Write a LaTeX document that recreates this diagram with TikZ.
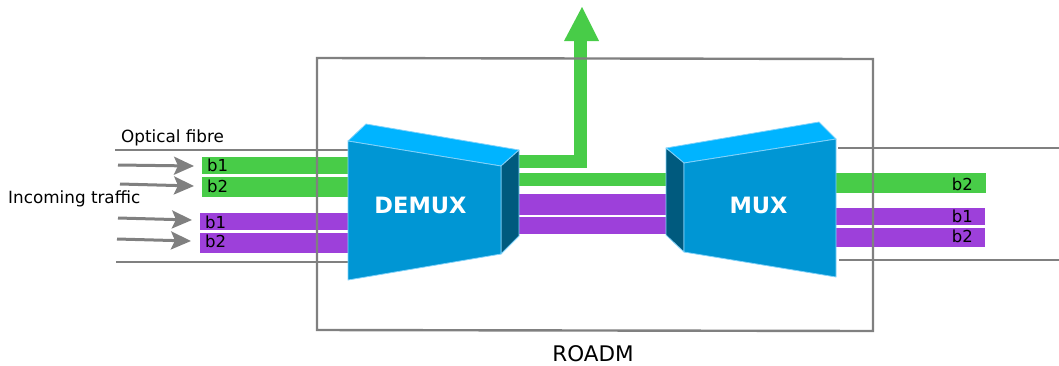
\documentclass[tikz,border=0pt]{standalone}
\usepackage{fontspec}
\setmainfont{DejaVu Sans}
\usetikzlibrary{arrows.meta}
\definecolor{fibregray}{RGB}{128,128,128}
\definecolor{bandgreen}{RGB}{72,204,72}
\definecolor{bandpurple}{RGB}{157,64,218}
\definecolor{boxtop}{RGB}{0,180,255}
\definecolor{boxfront}{RGB}{0,150,212}
\definecolor{boxside}{RGB}{0,90,126}
\definecolor{boxedge}{RGB}{130,210,250}
\tikzset{
  fibre/.style={draw=fibregray, line width=2.4pt},
  roadmbox/.style={draw=fibregray, line width=2.4pt},
  traffic/.style={draw=fibregray, line width=3pt,
    -{Stealth[length=20pt,width=18pt,inset=4pt]}},
  gband/.style={fill=bandgreen},
  pband/.style={fill=bandpurple},
  face/.style={draw=boxedge, line width=0.8pt, line join=round},
  label/.style={font=\fontsize{16.8}{18}\selectfont, inner sep=0pt},
  bandlabel/.style={font=\fontsize{16.5}{18}\selectfont, inner sep=0pt},
  unitlabel/.style={font=\fontsize{22.5}{24}\bfseries\selectfont, text=white, inner sep=0pt},
}
\begin{document}
\begin{tikzpicture}[x=1pt, y=-1pt]
\useasboundingbox (0,0) rectangle (1059,365);

% fibres on both sides
\draw[fibre] (115,150) -- (350,150);
\draw[fibre] (116,262) -- (350,262);
\draw[fibre] (838,148) -- (1059,148);
\draw[fibre] (839,260) -- (1059,260);

% incoming wavelength bands
\fill[gband] (202,157) rectangle (352,174);
\fill[gband] (202,177) rectangle (352,197);
\fill[pband] (200,213) rectangle (350,230);
\fill[pband] (200,233) rectangle (350,253);

% bands between DEMUX and MUX
\fill[gband] (517,173) rectangle (668,186);
\fill[pband] (517,194) rectangle (668,215);
\fill[pband] (517,217) rectangle (668,234);

% dropped band leaving the node
\draw[bandgreen, line width=13pt, line join=miter] (516,161.5) -- (580.5,161.5) -- (580.5,38);
\fill[bandgreen] (564,41) -- (582,7) -- (599,41) -- cycle;

% outgoing wavelength bands
\fill[gband] (834,173) rectangle (986,193);
\fill[pband] (834,208) rectangle (985,225);
\fill[pband] (834,228) rectangle (985,247);

% DEMUX block
\filldraw[face, fill=boxtop] (348,141) -- (366,124) -- (519,150) -- (501,166) -- cycle;
\filldraw[face, fill=boxside] (501,166) -- (519,150) -- (519,236) -- (501,254) -- cycle;
\filldraw[face, fill=boxfront] (348,141) -- (501,166) -- (501,254) -- (348,280) -- cycle;

% MUX block
\filldraw[face, fill=boxtop] (666,148) -- (819,122) -- (836,139) -- (684,163) -- cycle;
\filldraw[face, fill=boxside] (666,148) -- (684,163) -- (684,252) -- (666,235) -- cycle;
\filldraw[face, fill=boxfront] (684,163) -- (836,139) -- (836,277) -- (684,252) -- cycle;

% ROADM enclosure
\draw[roadmbox] (317,58) -- (873,59) -- (873,331) -- (317,330) -- cycle;

% incoming traffic arrows
\coordinate (s1) at (118,165);  \coordinate (e1) at (194,166);
\coordinate (s2) at (120,184);  \coordinate (e2) at (194,186);
\coordinate (s3) at (118,218);  \coordinate (e3) at (192,220);
\coordinate (s4) at (117,239);  \coordinate (e4) at (191,241);
\draw[traffic] (s1) -- (e1);
\draw[traffic] (s2) -- (e2);
\draw[traffic] (s3) -- (e3);
\draw[traffic] (s4) -- (e4);

% texts
\node[label, anchor=base west] (fibre) at (121,142) {Optical fibre};
\node[label, anchor=base west] (incoming) at (8,203) {Incoming traffic};
\node[font=\fontsize{21.5}{24}\selectfont, inner sep=0pt, anchor=base] (roadm) at (593,361) {ROADM};
\node[unitlabel] (demux) at (420.5,205) {DEMUX};
\node[unitlabel] (mux) at (758.5,205) {MUX};

\node[bandlabel, anchor=base west] (ing1) at (207,171) {b1};
\node[bandlabel, anchor=base west] (ing2) at (207,192) {b2};
\node[bandlabel, anchor=base west] (inp1) at (205,228) {b1};
\node[bandlabel, anchor=base west] (inp2) at (205,247) {b2};
\node[bandlabel, anchor=base east] (outg2) at (973,190) {b2};
\node[bandlabel, anchor=base east] (outp1) at (973,222) {b1};
\node[bandlabel, anchor=base east] (outp2) at (973,242) {b2};
\end{tikzpicture}
\end{document}
